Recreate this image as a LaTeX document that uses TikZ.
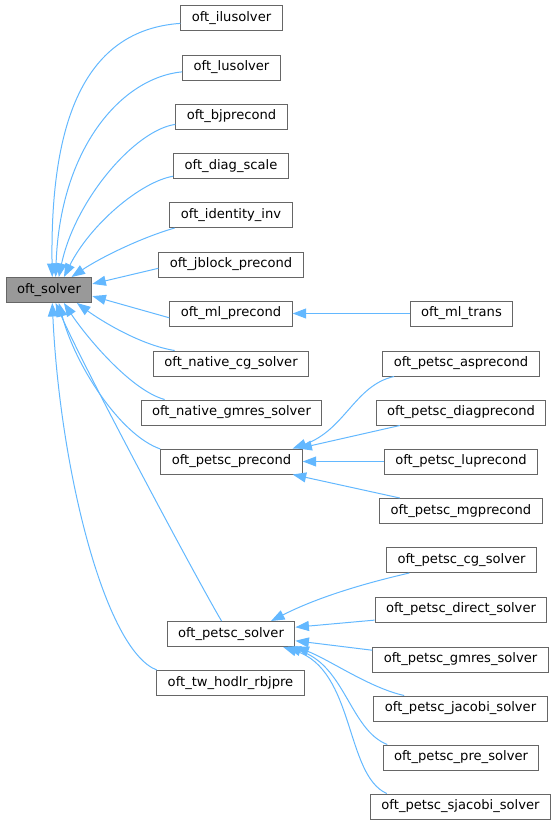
\documentclass[tikz,border=0pt]{standalone}
\usepackage{fontspec}
\setmainfont{DejaVu Sans}
\usetikzlibrary{arrows.meta}
\definecolor{boxline}{HTML}{666666}
\definecolor{rootfill}{HTML}{999999}
\definecolor{edgeblue}{HTML}{63B8FF}

\begin{document}
\begin{tikzpicture}
	[x=1pt, y=-1pt, font=\fontsize{13.1}{15}\selectfont,
	every node/.style={rectangle,draw=boxline,line width=1pt,fill=white,minimum height=25pt,inner xsep=11pt,inner ysep=0pt},
	root/.style={fill=rootfill},
	edge/.style={draw=edgeblue,line width=1pt,-{Triangle[length=13.5pt,width=10pt]}}]
	\useasboundingbox (0,0) rectangle (557,825);
	\node (solver) [root] at (49,290) {oft\_solver};
	\node (ilu) at (231.5,18) {oft\_ilusolver};
	\node (lu) at (231.5,67.5) {oft\_lusolver};
	\node (bjp) at (231.5,116.5) {oft\_bjprecond};
	\node (diag) at (231,166) {oft\_diag\_scale};
	\node (ident) at (231,215) {oft\_identity\_inv};
	\node (jblock) at (231,264.5) {oft\_jblock\_precond};
	\node (mlpre) at (231,313.5) {oft\_ml\_precond};
	\node (mltrans) at (461.5,313.5) {oft\_ml\_trans};
	\node (ncg) at (231,363.5) {oft\_native\_cg\_solver};
	\node (ngmres) at (231.5,412.5) {oft\_native\_gmres\_solver};
	\node (ppre) at (231.5,461.5) {oft\_petsc\_precond};
	\node (pas) at (461,363.5) {oft\_petsc\_asprecond};
	\node (pdiag) at (461,412.5) {oft\_petsc\_diagprecond};
	\node (plu) at (461,461.5) {oft\_petsc\_luprecond};
	\node (pmg) at (461,511) {oft\_petsc\_mgprecond};
	\node (psolver) at (231,634) {oft\_petsc\_solver};
	\node (twh) at (230.5,683) {oft\_tw\_hodlr\_rbjpre};
	\node (pcg) at (461.5,560) {oft\_petsc\_cg\_solver};
	\node (pdirect) at (461,609.5) {oft\_petsc\_direct\_solver};
	\node (pgmres) at (460.5,659.5) {oft\_petsc\_gmres\_solver};
	\node (pjacobi) at (460.5,708.5) {oft\_petsc\_jacobi\_solver};
	\node (ppresolver) at (461,757.5) {oft\_petsc\_pre\_solver};
	\node (psjacobi) at (460.5,806.5) {oft\_petsc\_sjacobi\_solver};
	\draw [edge] (ilu.186) .. controls (85,30) and (50,120) .. (solver.76);
	\draw [edge] (lu.185) .. controls (120,78) and (60,150) .. (solver.63);
	\draw [edge] (bjp.188) .. controls (135,130) and (75,200) .. (solver.53);
	\draw [edge] (diag.190) .. controls (140,182) and (90,225) .. (solver.41);
	\draw [edge] (ident.193) .. controls (140,238) and (100,258) .. (solver.30);
	\draw [edge] (jblock.183) -- (solver.8);
	\draw [edge] (mlpre.184) -- (solver.352);
	\draw [edge] (mltrans.west) -- (mlpre.east);
	\draw [edge] (ncg.167) .. controls (140,345) and (100,320) .. (solver.335);
	\draw [edge] (ngmres.169) .. controls (130,390) and (85,335) .. (solver.319);
	\draw [edge] (ppre.170) .. controls (120,435) and (75,365) .. (solver.307);
	\draw [edge] (psolver.126) .. controls (200,585) and (85,370) .. (solver.297);
	\draw [edge] (twh.170) .. controls (105,650) and (60,470) .. (solver.284);
	\draw [edge] (pas.191) .. controls (355,385) and (345,430) .. (ppre.12);
	\draw [edge] (pdiag.192) -- (ppre.11);
	\draw [edge] (plu.west) -- (ppre.east);
	\draw [edge] (pmg.168) -- (ppre.348);
	\draw [edge] (pcg.194) .. controls (370,582) and (320,596) .. (psolver.18);
	\draw [edge] (pdirect.187) -- (psolver.6);
	\draw [edge] (pgmres.174) -- (psolver.354);
	\draw [edge] (pjacobi.167) .. controls (370,688) and (330,660) .. (psolver.349);
	\draw [edge] (ppresolver.170) .. controls (350,730) and (345,665) .. (psolver.347);
	\draw [edge] (psjacobi.170) .. controls (345,775) and (355,670) .. (psolver.346);
\end{tikzpicture}
\end{document}
